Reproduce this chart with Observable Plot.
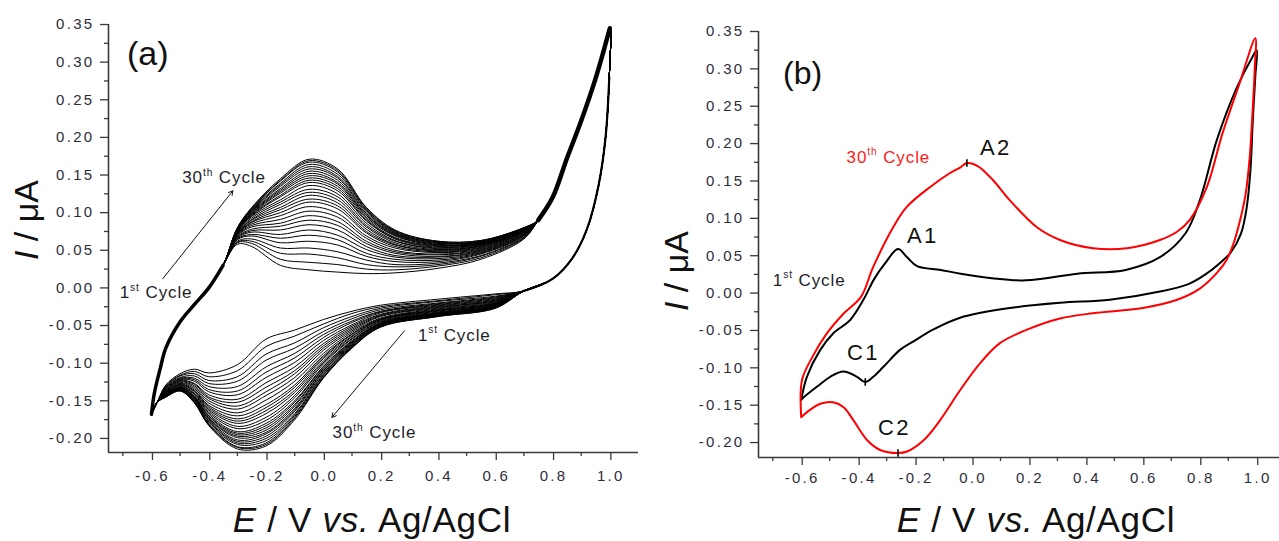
<!DOCTYPE html>
<html>
<head>
<meta charset="utf-8">
<script src="https://cdn.jsdelivr.net/npm/d3@7"></script>
<script src="https://cdn.jsdelivr.net/npm/@observablehq/plot@0.6"></script>
<style>
  body { margin: 0; background: #fff; }
  #wrap { position: relative; width: 1279px; height: 541px; overflow: hidden; background: #fff; }
  #pa, #pb { position: absolute; top: 0; }
  #pa { left: 0; }
  #pb { left: 640px; }
</style>
</head>
<body>
<div id="wrap"><div id="pa"></div><div id="pb"></div></div>
<script>
// ---------------- Axis ticks and labels ----------------
const xTicks = [-0.6, -0.4, -0.2, 0.0, 0.2, 0.4, 0.6, 0.8, 1.0];
const xTickLabels = ["-0.6", "-0.4", "-0.2", "0.0", "0.2", "0.4", "0.6", "0.8", "1.0"];
const xMinorTicks = [-0.7, -0.5, -0.3, -0.1, 0.1, 0.3, 0.5, 0.7, 0.9];
const yTicks = [-0.20, -0.15, -0.10, -0.05, 0.00, 0.05, 0.10, 0.15, 0.20, 0.25, 0.30, 0.35];
const yTickLabels = ["-0.20", "-0.15", "-0.10", "-0.05", "0.00", "0.05", "0.10", "0.15", "0.20", "0.25", "0.30", "0.35"];
const yMinorTicks = [-0.175, -0.125, -0.075, -0.025, 0.025, 0.075, 0.125, 0.175, 0.225, 0.275, 0.325];

// ---------------- Panel (a): cycles 1..30 (E in V, I in µA) ----------------
const cycleNumbersA = [1,2,3,4,5,6,7,8,9,10,11,12,13,14,15,16,17,18,19,20,21,22,23,24,25,26,27,28,29,30];
// shared start of the anodic (forward) scan
const fwdStartE = [-0.60, -0.59, -0.57, -0.55, -0.50, -0.45, -0.40, -0.35];
const fwdStartI = [-0.168, -0.140, -0.108, -0.080, -0.045, -0.022, 0.000, 0.030];
// forward scan, part that grows with cycling
const fwdMidE = [-0.30, -0.25, -0.15, -0.05, 0.05, 0.15, 0.25, 0.40, 0.55, 0.70];
const fwdRowsI = [
  [0.058, 0.055, 0.030, 0.024, 0.021, 0.019, 0.020, 0.026, 0.038, 0.065],
  [0.060, 0.059, 0.038, 0.034, 0.031, 0.025, 0.024, 0.029, 0.040, 0.066],
  [0.061, 0.062, 0.046, 0.045, 0.040, 0.031, 0.028, 0.031, 0.042, 0.067],
  [0.062, 0.065, 0.053, 0.053, 0.048, 0.037, 0.031, 0.033, 0.043, 0.068],
  [0.064, 0.069, 0.060, 0.062, 0.057, 0.042, 0.035, 0.035, 0.045, 0.069],
  [0.065, 0.071, 0.066, 0.070, 0.064, 0.046, 0.038, 0.037, 0.046, 0.070],
  [0.066, 0.074, 0.071, 0.077, 0.070, 0.051, 0.041, 0.039, 0.047, 0.070],
  [0.067, 0.076, 0.077, 0.084, 0.077, 0.055, 0.043, 0.041, 0.048, 0.071],
  [0.068, 0.078, 0.082, 0.090, 0.083, 0.059, 0.046, 0.042, 0.049, 0.072],
  [0.069, 0.081, 0.086, 0.096, 0.088, 0.062, 0.048, 0.044, 0.050, 0.072],
  [0.070, 0.083, 0.091, 0.102, 0.094, 0.066, 0.050, 0.045, 0.051, 0.073],
  [0.071, 0.085, 0.096, 0.108, 0.099, 0.069, 0.053, 0.047, 0.052, 0.074],
  [0.071, 0.087, 0.100, 0.114, 0.105, 0.073, 0.055, 0.048, 0.053, 0.074],
  [0.072, 0.088, 0.104, 0.118, 0.109, 0.075, 0.057, 0.049, 0.054, 0.075],
  [0.073, 0.090, 0.107, 0.123, 0.113, 0.078, 0.058, 0.050, 0.055, 0.075],
  [0.073, 0.091, 0.111, 0.127, 0.117, 0.081, 0.060, 0.051, 0.056, 0.076],
  [0.074, 0.093, 0.114, 0.131, 0.121, 0.083, 0.062, 0.052, 0.056, 0.076],
  [0.075, 0.095, 0.117, 0.136, 0.125, 0.086, 0.063, 0.053, 0.057, 0.076],
  [0.075, 0.096, 0.121, 0.140, 0.129, 0.089, 0.065, 0.054, 0.058, 0.077],
  [0.076, 0.097, 0.123, 0.143, 0.132, 0.090, 0.066, 0.055, 0.058, 0.077],
  [0.076, 0.098, 0.126, 0.146, 0.135, 0.092, 0.067, 0.056, 0.059, 0.078],
  [0.077, 0.099, 0.128, 0.149, 0.138, 0.094, 0.069, 0.057, 0.059, 0.078],
  [0.077, 0.100, 0.130, 0.152, 0.140, 0.096, 0.070, 0.057, 0.060, 0.078],
  [0.078, 0.101, 0.132, 0.155, 0.143, 0.097, 0.071, 0.058, 0.060, 0.078],
  [0.078, 0.102, 0.135, 0.158, 0.146, 0.099, 0.072, 0.059, 0.061, 0.079],
  [0.079, 0.103, 0.137, 0.161, 0.148, 0.101, 0.073, 0.060, 0.061, 0.079],
  [0.079, 0.104, 0.139, 0.164, 0.151, 0.103, 0.074, 0.060, 0.062, 0.079],
  [0.079, 0.105, 0.142, 0.167, 0.154, 0.104, 0.075, 0.061, 0.062, 0.080],
  [0.080, 0.106, 0.143, 0.169, 0.156, 0.106, 0.076, 0.062, 0.063, 0.080],
  [0.080, 0.107, 0.145, 0.171, 0.158, 0.107, 0.077, 0.062, 0.063, 0.080]
];
// shared end of the forward scan and start of the reverse scan
const fwdEndE = [0.75, 0.80, 0.85, 0.90, 0.95, 1.00];
const fwdEndI = [0.090, 0.120, 0.172, 0.222, 0.278, 0.345];
const revStartE = [0.998, 0.985, 0.96, 0.92, 0.87, 0.80, 0.70];
const revStartI = [0.280, 0.200, 0.135, 0.078, 0.040, 0.012, -0.004];
// reverse (cathodic) scan, part that grows with cycling
const revMidE = [0.60, 0.40, 0.20, 0.10, 0.00, -0.10, -0.20, -0.30, -0.40, -0.45, -0.50, -0.55];
const revRowsI = [
  [-0.008, -0.015, -0.023, -0.031, -0.042, -0.056, -0.068, -0.102, -0.113, -0.108, -0.114, -0.129],
  [-0.009, -0.017, -0.025, -0.034, -0.048, -0.064, -0.078, -0.110, -0.118, -0.111, -0.116, -0.130],
  [-0.011, -0.018, -0.027, -0.038, -0.053, -0.073, -0.088, -0.118, -0.123, -0.114, -0.117, -0.131],
  [-0.012, -0.020, -0.029, -0.041, -0.058, -0.080, -0.096, -0.124, -0.127, -0.117, -0.119, -0.132],
  [-0.013, -0.021, -0.031, -0.044, -0.062, -0.087, -0.105, -0.131, -0.131, -0.120, -0.120, -0.133],
  [-0.014, -0.022, -0.032, -0.046, -0.066, -0.093, -0.112, -0.137, -0.135, -0.122, -0.121, -0.134],
  [-0.015, -0.023, -0.033, -0.049, -0.070, -0.099, -0.119, -0.142, -0.138, -0.124, -0.122, -0.135],
  [-0.016, -0.024, -0.035, -0.051, -0.074, -0.105, -0.126, -0.148, -0.142, -0.127, -0.123, -0.136],
  [-0.017, -0.025, -0.036, -0.053, -0.077, -0.110, -0.132, -0.152, -0.145, -0.128, -0.124, -0.136],
  [-0.017, -0.026, -0.037, -0.055, -0.080, -0.114, -0.138, -0.157, -0.147, -0.130, -0.125, -0.137],
  [-0.018, -0.027, -0.038, -0.057, -0.083, -0.119, -0.143, -0.161, -0.150, -0.132, -0.126, -0.138],
  [-0.019, -0.028, -0.040, -0.059, -0.087, -0.124, -0.149, -0.166, -0.153, -0.134, -0.127, -0.138],
  [-0.020, -0.029, -0.041, -0.061, -0.090, -0.129, -0.155, -0.170, -0.156, -0.136, -0.128, -0.139],
  [-0.020, -0.030, -0.042, -0.062, -0.092, -0.132, -0.159, -0.174, -0.158, -0.137, -0.129, -0.139],
  [-0.021, -0.030, -0.042, -0.064, -0.094, -0.136, -0.163, -0.177, -0.160, -0.138, -0.129, -0.140],
  [-0.021, -0.031, -0.043, -0.065, -0.097, -0.139, -0.167, -0.180, -0.162, -0.140, -0.130, -0.140],
  [-0.022, -0.032, -0.044, -0.067, -0.099, -0.143, -0.172, -0.184, -0.164, -0.141, -0.131, -0.141],
  [-0.022, -0.033, -0.045, -0.068, -0.101, -0.146, -0.176, -0.187, -0.166, -0.142, -0.132, -0.141],
  [-0.023, -0.033, -0.046, -0.070, -0.104, -0.150, -0.180, -0.191, -0.168, -0.144, -0.132, -0.142],
  [-0.023, -0.034, -0.047, -0.071, -0.105, -0.152, -0.183, -0.193, -0.170, -0.145, -0.133, -0.142],
  [-0.024, -0.034, -0.047, -0.072, -0.107, -0.155, -0.186, -0.195, -0.171, -0.145, -0.133, -0.142],
  [-0.024, -0.035, -0.048, -0.073, -0.108, -0.157, -0.189, -0.197, -0.173, -0.146, -0.134, -0.143],
  [-0.025, -0.035, -0.048, -0.074, -0.110, -0.160, -0.192, -0.199, -0.174, -0.147, -0.134, -0.143],
  [-0.025, -0.036, -0.049, -0.075, -0.111, -0.162, -0.194, -0.202, -0.175, -0.148, -0.135, -0.143],
  [-0.025, -0.036, -0.049, -0.076, -0.113, -0.164, -0.197, -0.204, -0.177, -0.149, -0.135, -0.144],
  [-0.026, -0.036, -0.050, -0.077, -0.115, -0.167, -0.200, -0.206, -0.178, -0.150, -0.135, -0.144],
  [-0.026, -0.037, -0.051, -0.078, -0.116, -0.169, -0.203, -0.208, -0.180, -0.151, -0.136, -0.144],
  [-0.026, -0.037, -0.051, -0.079, -0.118, -0.171, -0.206, -0.211, -0.181, -0.152, -0.136, -0.145],
  [-0.027, -0.038, -0.052, -0.079, -0.119, -0.173, -0.208, -0.212, -0.182, -0.152, -0.137, -0.145],
  [-0.027, -0.038, -0.052, -0.080, -0.120, -0.175, -0.210, -0.214, -0.183, -0.153, -0.137, -0.145]
];
const revEndE = [-0.58, -0.60];
const revEndI = [-0.152, -0.168];

// ---------------- Panel (b): 1st and 30th cycles ----------------
const firstCycleE = [-0.600, -0.580, -0.533, -0.488, -0.428, -0.380, -0.345, -0.305, -0.260, -0.228, -0.193, -0.110, -0.040, 0.070, 0.190, 0.370, 0.540, 0.660, 0.750, 0.800, 0.860, 0.930, 0.985, 1.000,
  0.995, 0.986, 0.978, 0.965, 0.945, 0.910, 0.870, 0.820, 0.760, 0.660, 0.484, 0.309, 0.133, -0.042, -0.137, -0.207, -0.253, -0.312, -0.347, -0.375, -0.404, -0.452, -0.498, -0.544, -0.593, -0.600];
const firstCycleI = [-0.143, -0.112, -0.076, -0.054, -0.036, -0.008, 0.018, 0.040, 0.059, 0.048, 0.036, 0.031, 0.026, 0.020, 0.017, 0.026, 0.031, 0.048, 0.080, 0.124, 0.205, 0.275, 0.316, 0.325,
  0.290, 0.230, 0.165, 0.115, 0.080, 0.055, 0.040, 0.025, 0.012, 0.002, -0.009, -0.013, -0.020, -0.033, -0.049, -0.065, -0.076, -0.099, -0.112, -0.119, -0.112, -0.105, -0.112, -0.125, -0.140, -0.143];
const lastCycleE = [-0.600, -0.597, -0.560, -0.510, -0.450, -0.390, -0.347, -0.277, -0.230, -0.147, -0.080, -0.042, -0.018, 0.020, 0.074, 0.133, 0.228, 0.309, 0.425, 0.544, 0.660, 0.720, 0.765, 0.825, 0.880, 0.940, 0.995,
  0.993, 0.985, 0.975, 0.960, 0.940, 0.920, 0.895, 0.860, 0.800, 0.720, 0.600, 0.425, 0.309, 0.193, 0.098, 0.028, -0.042, -0.112, -0.170, -0.228, -0.260, -0.323, -0.368, -0.417, -0.450, -0.488, -0.533, -0.568, -0.600];
const lastCycleI = [-0.166, -0.116, -0.085, -0.054, -0.027, -0.005, 0.035, 0.088, 0.115, 0.142, 0.160, 0.168, 0.174, 0.170, 0.151, 0.124, 0.088, 0.071, 0.060, 0.060, 0.071, 0.082, 0.098, 0.142, 0.214, 0.281, 0.341,
  0.300, 0.240, 0.180, 0.130, 0.095, 0.068, 0.045, 0.027, 0.006, -0.009, -0.020, -0.027, -0.034, -0.049, -0.067, -0.094, -0.130, -0.170, -0.197, -0.212, -0.214, -0.210, -0.197, -0.170, -0.153, -0.146, -0.148, -0.156, -0.166];
const peakNames = ["A1", "A2", "C1", "C2"];
const peakE = [-0.260, -0.018, -0.375, -0.260];
const peakI = [0.059, 0.174, -0.119, -0.214];
const peakMarked = [false, true, true, true];

// ---------------- Build tables ----------------
const cyclesA = [];
cycleNumbersA.forEach((c, k) => {
  const E = [...fwdStartE, ...fwdMidE, ...fwdEndE, ...revStartE, ...revMidE, ...revEndE];
  const I = [...fwdStartI, ...fwdRowsI[k], ...fwdEndI, ...revStartI, ...revRowsI[k], ...revEndI];
  E.forEach((e, i) => cyclesA.push({cycle: c, E: e, I: I[i]}));
});
// the shared stretches, where all 30 traces lie on top of each other
const sharedLeftA = fwdStartE.map((e, i) => ({E: e, I: fwdStartI[i]}));
const sharedRightFwdA = fwdEndE.map((e, i) => ({E: e, I: fwdEndI[i]}));
const sharedRightRevA = revStartE.map((e, i) => ({E: e, I: revStartI[i]}));
const firstB = firstCycleE.map((e, i) => ({E: e, I: firstCycleI[i]}));
const lastB = lastCycleE.map((e, i) => ({E: e, I: lastCycleI[i]}));
const peaksB = peakNames.map((n, i) => ({name: n, E: peakE[i], I: peakI[i], marked: peakMarked[i]}));

// annotation placements (data units)
const peakLabelPos = {A1: [-0.228, 0.067], A2: [0.028, 0.1845], C1: [-0.439, -0.0896], C2: [-0.330, -0.190]};
const arrowsA = [
  {E1: -0.561, I1: 0.012, E2: -0.316, I2: 0.129},
  {E1: 0.283, I1: -0.057, E2: 0.030, I2: -0.172}
];

const FONT = "'Liberation Sans', Arial, Helvetica, sans-serif";
const AX = "#3a3a3a";

function axisMarks(xMin, yMin, xPad) {
  return [
    Plot.axisY(yMinorTicks, {tickSize: 4, tickFormat: () => "", stroke: AX, strokeWidth: 1.3, label: null}),
    Plot.axisY(yTicks, {tickSize: 8, tickPadding: 6, strokeWidth: 1.3, stroke: AX, fill: "#2d2d3a",
      tickFormat: d => yTickLabels[yTicks.indexOf(d)], label: null}),
    Plot.axisX(xMinorTicks, {tickSize: 4, tickFormat: () => "", stroke: AX, strokeWidth: 1.3, label: null}),
    Plot.axisX(xTicks, {tickSize: 8, tickPadding: xPad, strokeWidth: 1.3, stroke: AX, fill: "#2d2d3a", dx: 1,
      tickFormat: d => xTickLabels[xTicks.indexOf(d)], label: null}),
    Plot.ruleX([xMin], {stroke: AX, strokeWidth: 1.6}),
    Plot.ruleY([yMin], {stroke: AX, strokeWidth: 1.6})
  ];
}

function addText(svg, x, y, parts, opt = {}) {
  const size = opt.size || 16;
  const t = d3.select(svg).append("text")
    .attr("transform", `translate(${x},${y})` + (opt.rotate ? ` rotate(${opt.rotate})` : ""))
    .attr("text-anchor", opt.anchor || "start")
    .attr("fill", opt.color || "#1e1e2a")
    .style("font-family", FONT)
    .style("font-size", size + "px")
    .style("letter-spacing", (opt.spacing || 0) + "px");
  let up = false;
  parts.forEach(p => {
    const ts = t.append("tspan").text(p.t);
    if (p.italic) ts.style("font-style", "italic");
    if (p.sup) {
      ts.attr("dy", -0.42 * size).style("font-size", (0.6 * size) + "px");
      up = true;
    } else if (up) {
      ts.attr("dy", 0.42 * size);
      up = false;
    }
  });
}

const styleBase = {fontFamily: FONT, fontSize: "15px", letterSpacing: "2.3px", color: AX, background: "transparent", overflow: "visible"};

// ---------------- Panel (a) ----------------
const xDomA = [-0.75, 1.1], yDomA = [-0.2187, 0.35];
const chartA = Plot.plot({
  width: 640, height: 541,
  marginLeft: 108, marginRight: 2, marginTop: 24, marginBottom: 89,
  x: {domain: xDomA, label: null},
  y: {domain: yDomA, label: null},
  style: styleBase,
  marks: [
    ...axisMarks(xDomA[0], yDomA[0], 10),
    Plot.line(cyclesA, {x: "E", y: "I", z: "cycle", stroke: "#000", strokeWidth: 1, curve: "catmull-rom"}),
    Plot.line(sharedLeftA, {x: "E", y: "I", stroke: "#000", strokeWidth: 3.5, curve: "catmull-rom"}),
    Plot.line(sharedRightFwdA, {x: "E", y: "I", stroke: "#000", strokeWidth: 4.5, curve: "catmull-rom"}),
    Plot.line(sharedRightRevA, {x: "E", y: "I", stroke: "#000", strokeWidth: 2.2, curve: "catmull-rom"}),
    Plot.arrow(arrowsA, {x1: "E1", y1: "I1", x2: "E2", y2: "I2", stroke: "#111", strokeWidth: 1, headLength: 7})
  ]
});
document.getElementById("pa").appendChild(chartA);
{
  const sx = chartA.scale("x"), sy = chartA.scale("y");
  addText(chartA, 127, 65, [{t: "(a)"}], {size: 34, color: "#111"});
  addText(chartA, sx.apply(-0.491), sy.apply(0.139), [{t: "30"}, {t: "th", sup: true}, {t: " Cycle"}], {size: 17, spacing: 0.9});
  addText(chartA, sx.apply(-0.709), sy.apply(-0.0147), [{t: "1"}, {t: "st", sup: true}, {t: " Cycle"}], {size: 17, spacing: 0.9});
  addText(chartA, sx.apply(0.332), sy.apply(-0.0707), [{t: "1"}, {t: "st", sup: true}, {t: " Cycle"}], {size: 17, spacing: 0.9});
  addText(chartA, sx.apply(0.034), sy.apply(-0.200), [{t: "30"}, {t: "th", sup: true}, {t: " Cycle"}], {size: 17, spacing: 0.9});
  addText(chartA, 38, 220, [{t: "I", italic: true}, {t: " / μA"}], {size: 34, anchor: "middle", rotate: -90, color: "#111"});
  addText(chartA, 372, 532, [{t: "E", italic: true}, {t: " / V "}, {t: "vs.", italic: true}, {t: " Ag/AgCl"}], {size: 35, anchor: "middle", spacing: 0.7, color: "#111"});
}

// ---------------- Panel (b) ----------------
const xDomB = [-0.75, 1.08], yDomB = [-0.22, 0.35];
const chartB = Plot.plot({
  width: 639, height: 541,
  marginLeft: 118, marginRight: 0, marginTop: 31, marginBottom: 84,
  x: {domain: xDomB, label: null},
  y: {domain: yDomB, label: null},
  style: styleBase,
  marks: [
    ...axisMarks(xDomB[0], yDomB[0], 7),
    Plot.line(firstB, {x: "E", y: "I", stroke: "#000", strokeWidth: 2, curve: "catmull-rom"}),
    Plot.line(lastB, {x: "E", y: "I", stroke: "#ff0000", strokeWidth: 2, curve: "catmull-rom"}),
    Plot.link(peaksB.filter(d => d.marked), {x1: "E", x2: "E", y1: d => d.I - 0.005, y2: d => d.I + 0.005, stroke: "#000", strokeWidth: 1.6}),
    Plot.text(peaksB, {x: d => peakLabelPos[d.name][0], y: d => peakLabelPos[d.name][1], text: "name",
      textAnchor: "start", lineAnchor: "bottom", fontSize: 22, fill: "#111"})
  ]
});
document.getElementById("pb").appendChild(chartB);
{
  const sx = chartB.scale("x"), sy = chartB.scale("y");
  addText(chartB, 143, 84, [{t: "(b)"}], {size: 32, color: "#111"});
  addText(chartB, sx.apply(-0.439), sy.apply(0.174), [{t: "30"}, {t: "th", sup: true}, {t: " Cycle"}], {size: 17, spacing: 0.9, color: "#ff1a1a"});
  addText(chartB, sx.apply(-0.698), sy.apply(0.0094), [{t: "1"}, {t: "st", sup: true}, {t: " Cycle"}], {size: 17, spacing: 0.9});
  addText(chartB, 48, 271, [{t: "I", italic: true}, {t: " / μA"}], {size: 34, anchor: "middle", rotate: -90, color: "#111"});
  addText(chartB, 396, 532, [{t: "E", italic: true}, {t: " / V "}, {t: "vs.", italic: true}, {t: " Ag/AgCl"}], {size: 35, anchor: "middle", spacing: 0.7, color: "#111"});
}
</script>
</body>
</html>
